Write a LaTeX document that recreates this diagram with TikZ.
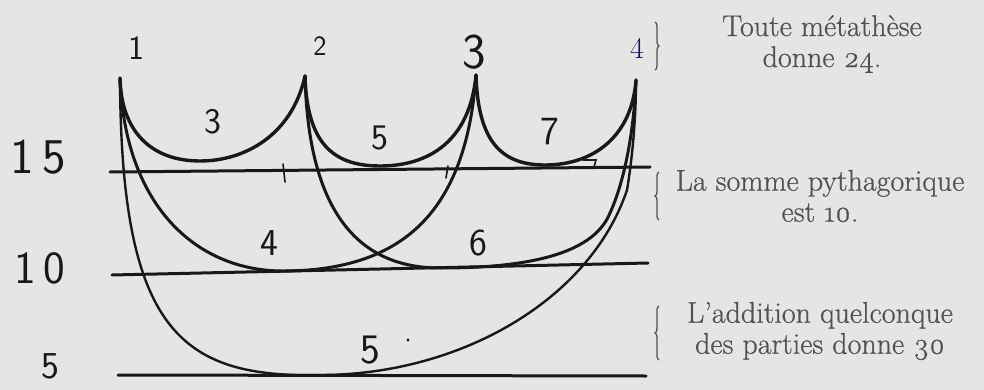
\documentclass[tikz,border=0pt]{standalone}
\usepackage{fontspec}
\newfontfamily\printfont{Latin Modern Roman}[FakeBold=0.6]
\usetikzlibrary{decorations.pathreplacing}
\definecolor{paper}{RGB}{229,230,227}
\definecolor{ink}{RGB}{24,24,26}
\definecolor{printgray}{RGB}{80,80,86}
\tikzset{
  bigarc/.style={draw=ink, line width=3.4pt, line cap=round, line join=round},
  midarc/.style={draw=ink, line width=3pt, line cap=round},
  lowarc/.style={draw=ink, line width=2.4pt, line cap=round},
  levelline/.style={draw=ink, line width=3pt, line cap=round},
  tickmark/.style={draw=ink, line width=1.6pt, line cap=round},
  hand/.style={text=ink, font=\sffamily, inner sep=0pt},
  printed/.style={text=printgray, font=\printfont\fontsize{30}{31}\selectfont, align=center, inner sep=0pt},
  bracemark/.style={draw=printgray, line width=1.3pt, decorate, decoration={brace, amplitude=4pt}},
}
\begin{document}
\begin{tikzpicture}[x=1pt,y=-1pt]
\useasboundingbox (0,0) rectangle (984,390);
\fill[paper] (0,0) rectangle (984,390);

% peaks and bottoms
\coordinate (p1) at (120,78);
\coordinate (p2) at (305,76);
\coordinate (p3) at (476,75);
\coordinate (p4) at (636,80);
\coordinate (b12) at (200,161);
\coordinate (b23) at (380,166);
\coordinate (b34) at (545,165);
\coordinate (b13) at (285,271);
\coordinate (b24) at (440,268);
\coordinate (m24) at (610,213);
\coordinate (b14) at (320,375);
\coordinate (m14) at (627,190);

% level lines
\coordinate (l15a) at (110,172); \coordinate (l15b) at (650,167);
\coordinate (l10a) at (112,275); \coordinate (l10b) at (648,263);
\coordinate (l5a) at (118,375);  \coordinate (l5b) at (646,376);
\draw[levelline] (l15a) -- (l15b);
\draw[levelline] (l10a) -- (l10b);
\draw[levelline] (l5a) -- (l5b);

% small ticks on the 15 line
\coordinate (t1a) at (283,164); \coordinate (t1b) at (285,182);
\coordinate (t2a) at (448,166); \coordinate (t2b) at (446,178);
\coordinate (t3a) at (583,160); \coordinate (t3b) at (596,160); \coordinate (t3c) at (594,167);
\draw[tickmark] (t1a) -- (t1b);
\draw[tickmark] (t2a) -- (t2b);
\draw[tickmark] (t3a) -- (t3b) -- (t3c);

% top arcs (sums of neighbours)
\draw[bigarc] (p1) .. controls (121,130) and (150,161) .. (b12)
              .. controls (245,161) and (292,135) .. (p2);
\draw[bigarc] (p2) .. controls (307,140) and (330,166) .. (b23)
              .. controls (430,166) and (470,140) .. (p3);
\draw[bigarc] (p3) .. controls (478,140) and (500,165) .. (b34)
              .. controls (595,165) and (632,135) .. (p4);

% middle arcs
\draw[midarc] (p1) .. controls (125,210) and (200,272) .. (b13)
              .. controls (400,270) and (466,215) .. (p3);
\draw[midarc] (p2) .. controls (308,200) and (350,268) .. (b24)
              .. controls (540,268) and (595,250) .. (m24)
              .. controls (625,180) and (634,130) .. (p4);

% big lower arc
\draw[lowarc] (p1) .. controls (121,330) and (180,378) .. (b14)
              .. controls (460,375) and (590,300) .. (m14)
              .. controls (632,160) and (636,120) .. (p4);

% handwritten numbers
\node[hand, font=\sffamily\fontsize{34}{34}\selectfont] (n1) at (136,48) {1};
\node[hand, font=\sffamily\fontsize{28}{28}\selectfont] (n2) at (320,46) {2};
\node[hand, font=\sffamily\fontsize{50}{50}\selectfont] (n3) at (474,52) {3};
\node[text=ink!70!blue, inner sep=0pt, font=\fontsize{30}{30}\selectfont] (n4) at (637,48) {4};

\node[hand, font=\sffamily\fontsize{36}{36}\selectfont] (s3) at (213,122) {3};
\node[hand, font=\sffamily\fontsize{36}{36}\selectfont] (s5) at (380,138) {5};
\node[hand, font=\sffamily\fontsize{40}{40}\selectfont] (s7) at (550,132) {7};
\node[hand, font=\sffamily\fontsize{38}{38}\selectfont] (s4) at (269,243) {4};
\node[hand, font=\sffamily\fontsize{38}{38}\selectfont] (s6) at (478,243) {6};
\node[hand, font=\sffamily\fontsize{42}{42}\selectfont] (s5b) at (370,350) {5};
\fill[ink] (408,340) circle (1.6pt);

\node[hand, font=\sffamily\fontsize{50}{50}\selectfont] (r15) at (38,157) {1\kern8pt 5};
\node[hand, font=\sffamily\fontsize{46}{46}\selectfont] (r10) at (40,268) {1\kern8pt 0};
\node[hand, font=\sffamily\fontsize{38}{38}\selectfont] (r5) at (50,366) {5};

% printed explanations
\node[printed] (txt1) at (822,44) {Toute métathèse\\donne \oldstylenums{24}.};
\node[printed] (txt2) at (820,196) {La somme pythagorique\\est \oldstylenums{10}.};
\node[printed] (txt3) at (820,331) {L’addition quelconque\\des parties donne \oldstylenums{30}};

% braces
\coordinate (br1a) at (655,22);  \coordinate (br1b) at (655,70);
\coordinate (br2a) at (659,220); \coordinate (br2b) at (659,172);
\coordinate (br3a) at (659,360); \coordinate (br3b) at (659,306);
\draw[bracemark] (br1a) -- (br1b);
\draw[bracemark] (br2a) -- (br2b);
\draw[bracemark] (br3a) -- (br3b);
\end{tikzpicture}
\end{document}
